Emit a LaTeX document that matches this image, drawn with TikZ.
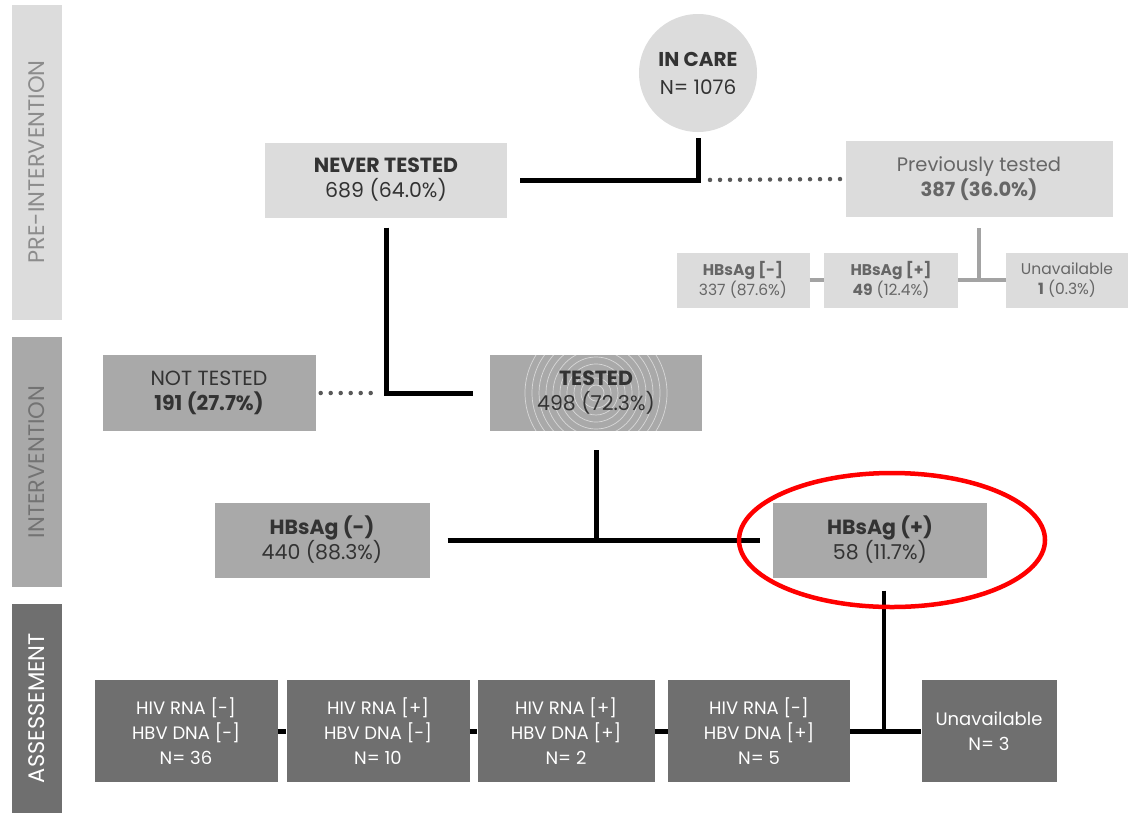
\documentclass[tikz,border=0pt]{standalone}
\usepackage{fontspec}
\setmainfont{Poppins}
\usetikzlibrary{calc}

\definecolor{boxlight}{HTML}{DCDCDC}
\definecolor{boxmid}{HTML}{A9A9A9}
\definecolor{boxdark}{HTML}{6F6F6F}
\definecolor{txtgray}{HTML}{666666}
\definecolor{linegray}{HTML}{A3A3A3}

\begin{document}
\begin{tikzpicture}[x=1pt, y=-1pt]
    % Styles
    \tikzset{
        box/.style={inner sep=0pt, align=center, font=\fontsize{20.5}{25}\selectfont},
        lightbox/.style={box, fill=boxlight, text=txtgray},
        midbox/.style={box, fill=boxmid, text=black!80},
        darkbox/.style={box, fill=boxdark, text=white, minimum height=102,
            font=\fontsize{18}{25}\selectfont},
        smallbox/.style={box, fill=boxlight, text=txtgray, minimum height=55,
            font=\fontsize{15.5}{20}\selectfont},
        phase/.style={inner sep=0pt, rotate=90, minimum height=50,
            font=\fontsize{22.5}{24}\selectfont},
        conn/.style={line width=5pt, black},
        thinconn/.style={line width=4pt, linegray},
        dotline/.style={line width=4.5pt, black!65, line cap=round, dash pattern=on 0pt off 10pt}
    }
    \useasboundingbox (0,0) rectangle (1132,815);

    % Phase bars
    \node[phase, fill=boxlight, text=black!45, minimum width=315] (pre) at (37,162) {PRE-INTERVENTION};
    \node[phase, fill=boxmid, text=black!55, minimum width=250] (inter) at (37,462) {INTERVENTION};
    \node[phase, fill=boxdark, text=white, minimum width=209] (assess) at (37,708) {ASSESSEMENT};

    % Pre-intervention
    \node[circle, fill=boxlight, minimum size=118, inner sep=0pt, align=center, text=black!80,
        font=\fontsize{20}{28}\selectfont] (incare) at (698,73) {\textbf{IN CARE}\\N= 1076};
    \node[lightbox, text=black!80, minimum width=242, minimum height=75] (never) at (386,180)
        {\textbf{NEVER TESTED}\\689 (64.0\%)};
    \node[lightbox, font=\fontsize{19.5}{25}\selectfont, minimum width=267, minimum height=76] (prev) at (979,179)
        {Previously tested\\\textbf{387 (36.0\%)}};
    \node[smallbox, minimum width=133] (hbsneg) at (743,280) {\textbf{HBsAg [-]}\\337 (87.6\%)};
    \node[smallbox, minimum width=134] (hbspos) at (891,280) {\textbf{HBsAg [+]}\\\textbf{49} (12.4\%)};
    \node[smallbox, minimum width=122] (unavail) at (1067,280) {Unavailable\\\textbf{1} (0.3\%)};

    % Intervention
    \node[midbox, minimum width=213, minimum height=76] (nottested) at (209,393)
        {NOT TESTED\\\textbf{191 (27.7\%)}};
    \node[midbox, minimum width=212, minimum height=76,
        path picture={\foreach \r in {8,15,...,71}
            \draw[white, opacity=0.55, line width=0.7pt] (path picture bounding box.center) circle (\r);}]
        (tested) at (596,393) {\textbf{TESTED}\\498 (72.3\%)};
    \node[midbox, minimum width=215, minimum height=75] (hbneg) at (322,540)
        {\textbf{HBsAg (-)}\\440 (88.3\%)};
    \node[midbox, minimum width=214, minimum height=75] (hbpos) at (880,540)
        {\textbf{HBsAg (+)}\\58 (11.7\%)};

    % Assessement
    \node[darkbox, minimum width=183] (rnanegdnaneg) at (186,731) {HIV RNA [-]\\HBV DNA [-]\\N= 36};
    \node[darkbox, minimum width=183] (rnaposdnaneg) at (378,731) {HIV RNA [+]\\HBV DNA [-]\\N= 10};
    \node[darkbox, minimum width=177] (rnaposdnapos) at (566,731) {HIV RNA [+]\\HBV DNA [+]\\N= 2};
    \node[darkbox, minimum width=182] (rnanegdnapos) at (759,731) {HIV RNA [-]\\HBV DNA [+]\\N= 5};
    \node[darkbox, minimum width=135] (unavail2) at (989,731) {Unavailable\\N= 3};

    % Connectors
    \draw[conn, shorten <=6pt, shorten >=13pt] (incare.south) |- (never.east);
    \draw[dotline, shorten <=12pt, shorten >=4pt] (incare.south |- never.east) -- (prev.west);
    \draw[conn, shorten <=10pt, shorten >=17pt] (never.south) |- (tested.west);
    \draw[dotline, shorten <=5pt, shorten >=6pt] (nottested.east) -- (never.south |- tested.west);
    \draw[conn, shorten <=19pt] (tested.south) -- (tested.south |- hbneg.east);
    \draw[conn, shorten <=18pt, shorten >=13pt] (hbneg.east) -- (hbpos.west);

    \draw[thinconn, shorten <=11pt] (prev.south) -- (prev.south |- hbspos.east);
    \draw[thinconn] (hbsneg.east) -- (hbspos.west);
    \draw[thinconn] (hbspos.east) -- (unavail.west);

    \draw[line width=4pt, shorten <=13pt] ($(hbpos.south)+(4,0)$) -- ($(hbpos.south |- unavail2.west)+(4,0)$);
    \foreach \a/\b in {rnanegdnaneg/rnaposdnaneg, rnaposdnaneg/rnaposdnapos,
                       rnaposdnapos/rnanegdnapos, rnanegdnapos/unavail2}
        \draw[line width=5pt] (\a.east) -- (\b.west);

    % Highlight
    \draw[red, line width=4.5pt] ($(hbpos.center)+(12,0)$) ellipse [x radius=153, y radius=67];
\end{tikzpicture}
\end{document}
